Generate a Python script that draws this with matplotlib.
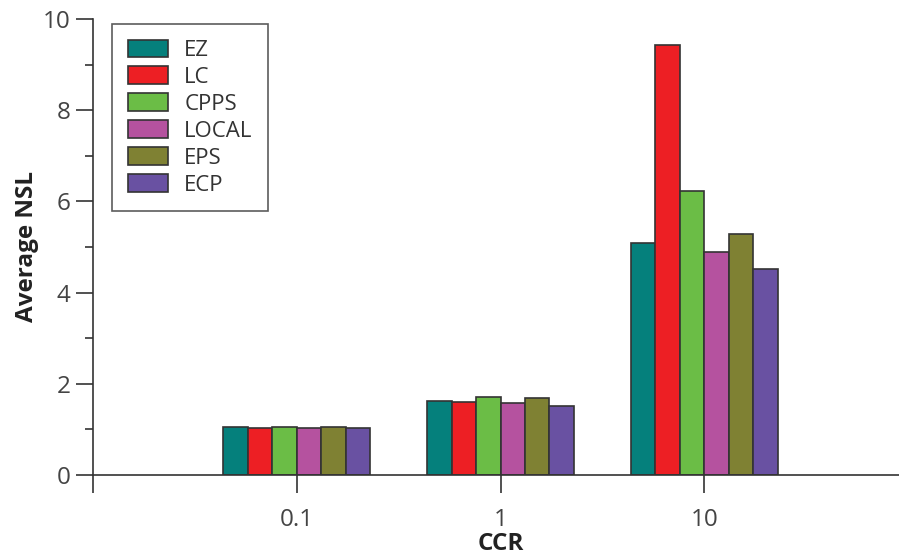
import numpy as np
import matplotlib
matplotlib.use("Agg")
import matplotlib.pyplot as plt
from matplotlib.ticker import MultipleLocator, FixedLocator

plt.rcParams['font.family'] = ['Open Sans', 'DejaVu Sans']

# data
ccr_labels = ['0.1', '1', '10']
ez = [1.05, 1.62, 5.09]
lc = [1.03, 1.60, 9.44]
cpps = [1.05, 1.71, 6.23]
local = [1.04, 1.58, 4.88]
eps = [1.05, 1.69, 5.28]
ecp = [1.02, 1.51, 4.51]

series = [('EZ', ez, '#05807c'), ('LC', lc, '#ed1f24'), ('CPPS', cpps, '#6bbd46'),
          ('LOCAL', local, '#b5529f'), ('EPS', eps, '#7f8133'), ('ECP', ecp, '#6951a2')]

dark = '#333333'
text_col = '#444444'

fig = plt.figure(figsize=(8.99, 5.59), dpi=100)
ax = fig.add_axes([93 / 899, 84 / 559, 815 / 899, 456 / 559])

x = np.arange(1, len(ccr_labels) + 1)
w = 0.12
for i, (name, vals, col) in enumerate(series):
    ax.bar(x + (i - 2.5) * w, vals, w, color=col, edgecolor=dark, linewidth=1.2,
           label=name)

ax.set_xlim(0, 4)
ax.set_ylim(0, 10)
ax.set_xticks(x)
ax.set_xticklabels(ccr_labels)
ax.xaxis.set_minor_locator(FixedLocator([0]))
ax.yaxis.set_major_locator(MultipleLocator(2))
ax.yaxis.set_minor_locator(MultipleLocator(1))

for s in ['top', 'right']:
    ax.spines[s].set_visible(False)
for s in ['left', 'bottom']:
    ax.spines[s].set_color(dark)
    ax.spines[s].set_linewidth(1.2)

ax.tick_params(axis='both', which='major', direction='out', color=dark, width=1.2,
               labelsize=17.5, labelcolor=text_col)
ax.tick_params(axis='y', which='major', length=12, pad=4)
ax.tick_params(axis='y', which='minor', length=6, width=1.2, color=dark)
ax.tick_params(axis='x', which='major', length=13, pad=11)
ax.tick_params(axis='x', which='minor', length=13, width=1.2, color=dark)

ax.set_xlabel('CCR', fontsize=17.5, fontweight='bold', color='#222222', labelpad=0)
ax.set_ylabel('Average NSL', fontsize=17.5, fontweight='bold', color='#222222', labelpad=3)

leg = ax.legend(loc='upper left', bbox_to_anchor=(0.0233, 0.989), borderaxespad=0,
                fontsize=16, frameon=True, fancybox=False, handlelength=1.8,
                handleheight=0.85, handletextpad=0.75, labelspacing=0.24,
                borderpad=0.7)
leg.get_frame().set_edgecolor(dark)
leg.get_frame().set_linewidth(1.2)
for t in leg.get_texts():
    t.set_color(dark)

fig.savefig('out.png', dpi=100)
